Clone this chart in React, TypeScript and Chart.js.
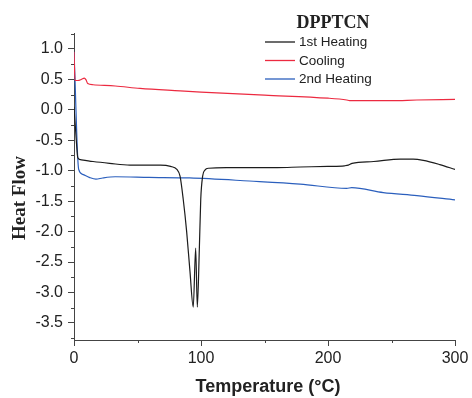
import React, { useEffect, useRef } from "react";
import { Chart, registerables } from "chart.js";

Chart.register(...registerables);

const chartTitle = "DPPTCN";
const xAxisTitle = "Temperature (°C)";
const yAxisTitle = "Heat Flow";

const seriesLabels = ["1st Heating", "Cooling", "2nd Heating"];
const seriesColors = ["#1c1c1c", "#ec2a40", "#2b5fbd"];

const heating1Temp = [0, 1.8, 3, 5, 15, 28, 44, 55, 68, 76, 81, 83.5, 86, 88.7, 91.3, 93.9, 95.8, 97.1, 98.7, 99.8, 101.3, 103.1, 106, 120, 140, 160, 178, 200, 213, 216, 219, 236, 257, 267, 275, 288, 300];
const heating1Flow = [0.05, -0.5, -0.79, -0.82, -0.85, -0.88, -0.91, -0.91, -0.91, -0.93, -0.98, -1.09, -1.47, -2.0, -2.65, -3.24, -2.27, -3.24, -2.28, -1.47, -1.09, -0.99, -0.96, -0.95, -0.95, -0.95, -0.94, -0.93, -0.92, -0.91, -0.88, -0.85, -0.81, -0.81, -0.83, -0.9, -0.98];

const coolingTemp = [0, 0.8, 3, 6, 8.1, 9.5, 10.8, 15, 32.5, 52, 83.5, 100, 150, 200, 214.7, 217, 230, 250, 270, 300];
const coolingFlow = [0.95, 0.48, 0.48, 0.5, 0.52, 0.49, 0.43, 0.41, 0.39, 0.35, 0.31, 0.29, 0.24, 0.19, 0.16, 0.15, 0.15, 0.15, 0.16, 0.17];

const heating2Temp = [0, 0.8, 2.5, 3.7, 6.8, 12, 17.3, 22.6, 32.5, 59, 91, 138, 178, 214.7, 218.7, 243.5, 270, 300];
const heating2Flow = [0.95, 0.5, -0.6, -0.98, -1.06, -1.11, -1.14, -1.12, -1.1, -1.11, -1.12, -1.17, -1.22, -1.29, -1.28, -1.36, -1.41, -1.48];

const xTicks = [0, 100, 200, 300];
const xMinorTicks = [50, 150, 250];
const yTicks = [-3.5, -3.0, -2.5, -2.0, -1.5, -1.0, -0.5, 0.0, 0.5, 1.0];
const yMinorTicks = [-3.75, -3.25, -2.75, -2.25, -1.75, -1.25, -0.75, -0.25, 0.25, 0.75, 1.25];

const toPoints = (xs: number[], ys: number[]) => xs.map((x, i) => ({ x, y: ys[i] }));

const AXIS_COLOR = "#444444";
const TEXT_COLOR = "#222222";

const decorPlugin = {
  id: "decor",
  afterDraw(chart: any) {
    const ctx = chart.ctx as CanvasRenderingContext2D;
    const xs = chart.scales.x;
    const ys = chart.scales.y;
    const area = chart.chartArea;
    ctx.save();
    // minor ticks
    ctx.strokeStyle = AXIS_COLOR;
    ctx.lineWidth = 1;
    ctx.beginPath();
    yMinorTicks.forEach((v) => {
      const y = Math.round(ys.getPixelForValue(v)) + 0.5;
      ctx.moveTo(area.left - 3, y);
      ctx.lineTo(area.left, y);
    });
    xMinorTicks.forEach((v) => {
      const x = Math.round(xs.getPixelForValue(v)) + 0.5;
      ctx.moveTo(x, area.bottom);
      ctx.lineTo(x, area.bottom + 3);
    });
    ctx.stroke();

    // chart title
    ctx.fillStyle = TEXT_COLOR;
    ctx.textAlign = "center";
    ctx.textBaseline = "middle";
    ctx.font = "bold 18px 'Liberation Serif', 'DejaVu Serif', serif";
    ctx.fillText(chartTitle, 333, 23);

    // legend
    ctx.font = "13.5px 'Liberation Sans', Arial, sans-serif";
    ctx.textAlign = "left";
    const rows = [42, 60.5, 79];
    chart.data.datasets.forEach((ds: any, i: number) => {
      const y = rows[i];
      ctx.strokeStyle = ds.borderColor;
      ctx.lineWidth = 1.3;
      ctx.beginPath();
      ctx.moveTo(265, y);
      ctx.lineTo(295, y);
      ctx.stroke();
      ctx.fillStyle = TEXT_COLOR;
      ctx.fillText(ds.label, 299, y + 0.5);
    });

    // axis titles
    ctx.fillStyle = TEXT_COLOR;
    ctx.textAlign = "center";
    ctx.textBaseline = "middle";
    ctx.font = "bold 18px 'Liberation Sans', Arial, sans-serif";
    ctx.fillText(xAxisTitle, 268, 387);

    ctx.translate(20, 198);
    ctx.rotate(-Math.PI / 2);
    ctx.font = "bold 19px 'Liberation Serif', 'DejaVu Serif', serif";
    ctx.fillText(yAxisTitle, 0, 0);
    ctx.restore();
  },
};

export default function App() {
  const canvasRef = useRef<HTMLCanvasElement | null>(null);

  useEffect(() => {
    if (!canvasRef.current) return;
    const chart = new Chart(canvasRef.current, {
      type: "line",
      data: {
        datasets: [
          { label: seriesLabels[0], data: toPoints(heating1Temp, heating1Flow), borderColor: seriesColors[0] },
          { label: seriesLabels[1], data: toPoints(coolingTemp, coolingFlow), borderColor: seriesColors[1] },
          { label: seriesLabels[2], data: toPoints(heating2Temp, heating2Flow), borderColor: seriesColors[2] },
        ].map((d) => ({
          ...d,
          borderWidth: 1.2,
          pointRadius: 0,
          fill: false,
          cubicInterpolationMode: "monotone" as const,
        })),
      },
      options: {
        animation: false,
        responsive: true,
        maintainAspectRatio: false,
        layout: { padding: { left: 0, right: 17, top: 33, bottom: 0 } },
        plugins: {
          legend: { display: false },
          tooltip: { enabled: false },
          title: { display: false },
        },
        scales: {
          x: {
            type: "linear",
            min: 0,
            max: 300,
            afterFit: (s: any) => {
              s.height = 58;
            },
            afterBuildTicks: (s: any) => {
              s.ticks = xTicks.map((v) => ({ value: v }));
            },
            ticks: {
              color: TEXT_COLOR,
              font: { family: "'Liberation Sans', Arial, sans-serif", size: 16 },
              padding: 3,
              maxRotation: 0,
              callback: (v: any) => String(v),
            },
            grid: { drawOnChartArea: false, drawTicks: true, tickLength: 6, color: AXIS_COLOR },
            border: { display: true, color: AXIS_COLOR, width: 1 },
          },
          y: {
            type: "linear",
            min: -3.78,
            max: 1.26,
            afterFit: (s: any) => {
              s.width = 74;
            },
            afterBuildTicks: (s: any) => {
              s.ticks = yTicks.map((v) => ({ value: v }));
            },
            ticks: {
              color: TEXT_COLOR,
              font: { family: "'Liberation Sans', Arial, sans-serif", size: 16 },
              padding: 5,
              callback: (v: any) => Number(v).toFixed(1),
            },
            grid: { drawOnChartArea: false, drawTicks: true, tickLength: 6, color: AXIS_COLOR },
            border: { display: true, color: AXIS_COLOR, width: 1 },
          },
        },
      },
      plugins: [decorPlugin],
    });
    return () => chart.destroy();
  }, []);

  return (
    <div style={{ position: "absolute", left: 0, top: 0, width: 472, height: 398, background: "#fff" }}>
      <canvas ref={canvasRef} />
    </div>
  );
}
